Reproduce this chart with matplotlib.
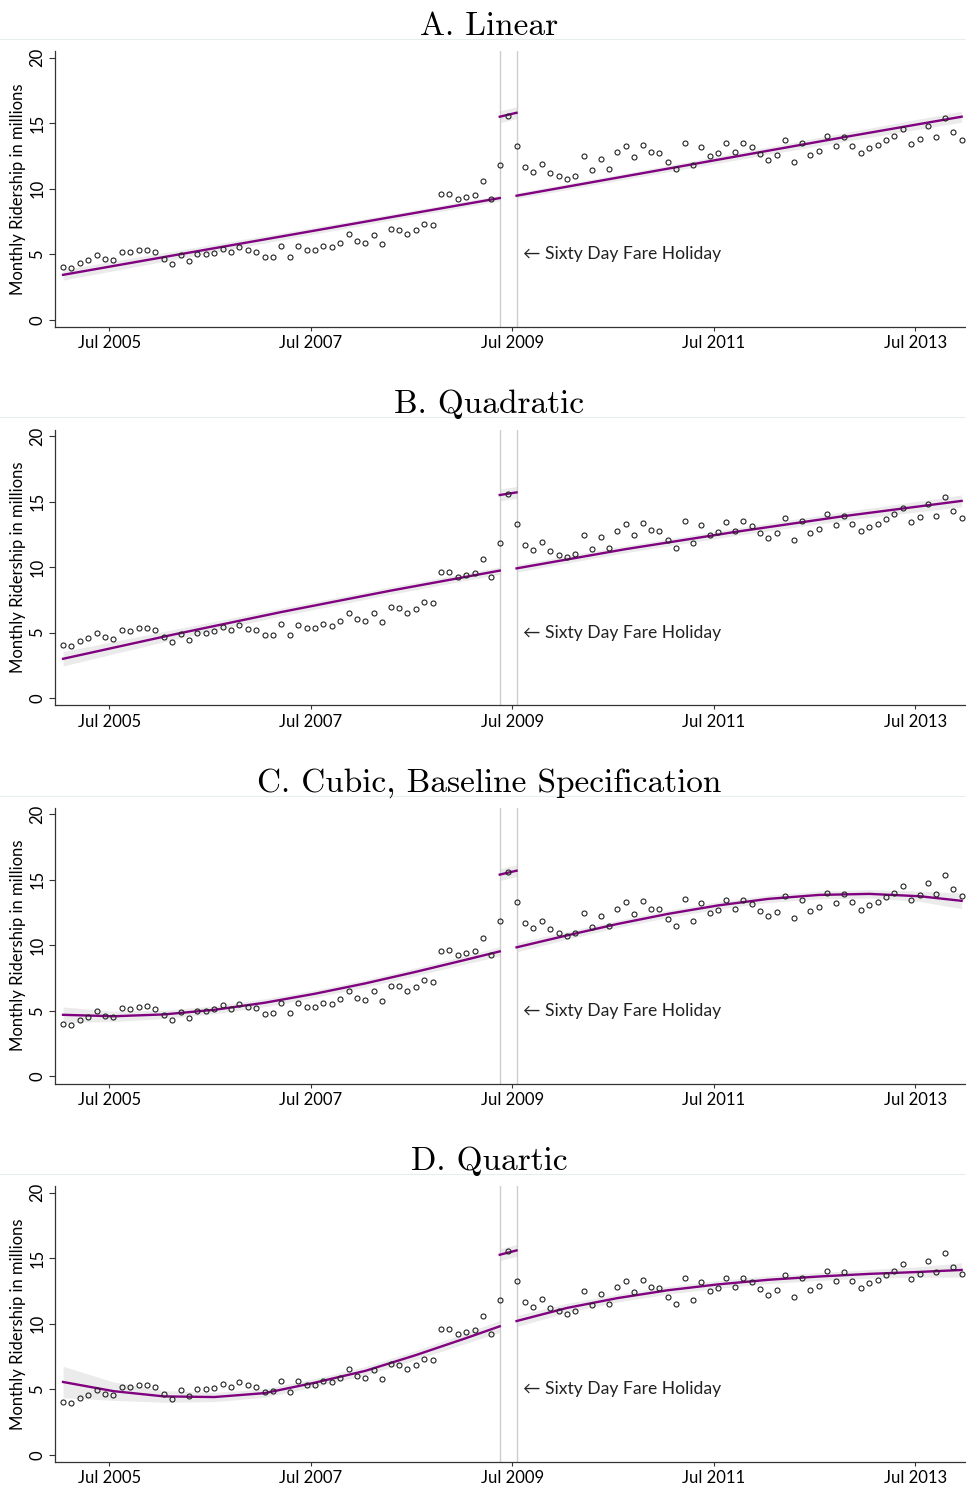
import matplotlib.pyplot as plt
from matplotlib.lines import Line2D
import numpy as np

plt.rcParams['font.family'] = ['Lato', 'DejaVu Sans']

# monthly ridership, Jan 2005 - Dec 2013 (millions)
ridership = [4.02, 3.94, 4.33, 4.56, 4.96, 4.63, 4.53, 5.19, 5.14, 5.32, 5.34, 5.16,
             4.66, 4.27, 4.91, 4.45, 4.99, 4.99, 5.11, 5.42, 5.16, 5.55, 5.29, 5.19,
             4.78, 4.83, 5.62, 4.81, 5.60, 5.32, 5.32, 5.62, 5.52, 5.88, 6.51, 6.00,
             5.85, 6.49, 5.78, 6.92, 6.87, 6.51, 6.82, 7.33, 7.23, 9.59, 9.62, 9.24,
             9.39, 9.54, 10.59, 9.24, 11.83, 15.57, 13.28, 11.68, 11.30, 11.88, 11.22, 10.94,
             10.74, 10.97, 12.47, 11.40, 12.26, 11.48, 12.77, 13.28, 12.42, 13.36, 12.80, 12.75,
             12.04, 11.48, 13.51, 11.83, 13.21, 12.47, 12.70, 13.46, 12.77, 13.49, 13.16, 12.62,
             12.21, 12.57, 13.74, 12.06, 13.49, 12.60, 12.90, 14.02, 13.23, 13.92, 13.28, 12.72,
             13.08, 13.31, 13.69, 14.02, 14.53, 13.44, 13.82, 14.78, 13.92, 15.37, 14.30, 13.76]
months = np.arange(len(ridership)) + 0.5   # mid-month, months since Jan 2005
hol_before, hol_after = 52, 54             # months bracketing the fare holiday

tick_pos = [6, 30, 54, 78, 102]
tick_labels = ['Jul 2005', 'Jul 2007', 'Jul 2009', 'Jul 2011', 'Jul 2013']

titles = ['A. Linear', 'B. Quadratic', 'C. Cubic, Baseline Specification', 'D. Quartic']

# fitted values (month index, value, half width of CI)
t_lin_pre = [0, 13, 26, 39, 52]
t_lin_post = [54, 67, 80, 93, 107]
t_poly_pre = [0, 6, 12, 18, 24, 30, 36, 42, 48, 52]
t_poly_post = [54, 60, 66, 72, 78, 84, 90, 96, 102, 107]

linear_pre = [3.43, 4.90, 6.36, 7.83, 9.29]
linear_post = [9.47, 10.96, 12.45, 13.94, 15.50]
linear_pre_ci = [0.40, 0.33, 0.27, 0.23, 0.22]
linear_post_ci = [0.22, 0.23, 0.27, 0.33, 0.42]
linear_hol = [15.5, 15.8]

quad_pre = [3.00, 4.83, 6.57, 8.20, 9.73]
quad_post = [9.90, 11.37, 12.68, 13.89, 15.05]
quad_pre_ci = [0.55, 0.38, 0.30, 0.28, 0.28]
quad_post_ci = [0.28, 0.27, 0.28, 0.33, 0.45]
quad_hol = [15.5, 15.7]

cubic_pre = [4.70, 4.59, 4.73, 5.08, 5.62, 6.31, 7.10, 7.98, 8.91, 9.54]
cubic_post = [9.85, 10.76, 11.63, 12.40, 13.05, 13.55, 13.85, 13.93, 13.75, 13.40]
cubic_pre_ci = [0.60, 0.40, 0.32, 0.30, 0.30, 0.28, 0.28, 0.30, 0.32, 0.35]
cubic_post_ci = [0.35, 0.30, 0.28, 0.28, 0.28, 0.28, 0.30, 0.32, 0.40, 0.60]
cubic_hol = [15.4, 15.7]

quartic_pre = [5.55, 4.85, 4.45, 4.40, 4.70, 5.50, 6.40, 7.60, 8.90, 9.80]
quartic_post = [10.20, 11.20, 11.95, 12.55, 13.00, 13.35, 13.60, 13.80, 13.95, 14.10]
quartic_pre_ci = [1.20, 0.70, 0.45, 0.35, 0.32, 0.32, 0.33, 0.35, 0.40, 0.45]
quartic_post_ci = [0.42, 0.35, 0.30, 0.30, 0.30, 0.30, 0.30, 0.33, 0.40, 0.55]
quartic_hol = [15.26, 15.59]
hol_ci = 0.45

panels = [
    (t_lin_pre, linear_pre, linear_pre_ci, t_lin_post, linear_post, linear_post_ci, linear_hol),
    (t_lin_pre, quad_pre, quad_pre_ci, t_lin_post, quad_post, quad_post_ci, quad_hol),
    (t_poly_pre, cubic_pre, cubic_pre_ci, t_poly_post, cubic_post, cubic_post_ci, cubic_hol),
    (t_poly_pre, quartic_pre, quartic_pre_ci, t_poly_post, quartic_post, quartic_post_ci, quartic_hol),
]

purple = '#800080'
band = '#ebebeb'

W, H = 966, 1489
fig = plt.figure(figsize=(W / 100, H / 100), dpi=100, facecolor='white')

for k, (tp, vp, cp, tq, vq, cq, vh) in enumerate(panels):
    off = 378.3 * k
    bottom = 327 + off
    ax = fig.add_axes([55 / W, (H - bottom) / H, 910 / W, 275.8 / H])

    # CI bands and fitted segments
    segs = [(np.array(tp) + 0.5, np.array(vp), np.array(cp)),
            (np.array([hol_before, hol_after]) + 0.5, np.array(vh), np.array([hol_ci, hol_ci])),
            (np.array(tq) + 0.5, np.array(vq), np.array(cq))]
    for x, y, c in segs:
        ax.fill_between(x, y - c, y + c, color=band, lw=0, zorder=1)
    for x, y, c in segs:
        ax.plot(x, y, color=purple, lw=1.7, zorder=3)

    # holiday boundaries
    for m in (hol_before, hol_after):
        ax.axvline(m + 0.5, color='#cdcdcd', lw=1.0, zorder=2)

    ax.plot(months, ridership, 'o', ms=3.6, mfc='none', mec='#222222', mew=0.8, zorder=4)

    ax.text(55.3, 5, '\u2190 Sixty Day Fare Holiday', ha='left', va='center',
            fontsize=12.6, color='#222222')

    ax.set_xlim(-0.46, 107.9)
    ax.set_ylim(-0.55, 20.5)
    ax.set_xticks(tick_pos)
    ax.set_xticklabels(tick_labels)
    ax.set_yticks([0, 5, 10, 15, 20])
    ax.tick_params(axis='y', labelrotation=90, length=4, width=0.8, pad=3,
                   labelsize=12, color='#333333')
    ax.tick_params(axis='x', length=3, width=0.8, pad=3, labelsize=12, color='#333333')
    for lab in ax.get_yticklabels():
        lab.set_va('center')

    for s in ('top', 'right'):
        ax.spines[s].set_visible(False)
    for s in ('left', 'bottom'):
        ax.spines[s].set_color('#333333')
        ax.spines[s].set_linewidth(0.9)

    ax.set_ylabel('Monthly Ridership in millions', fontsize=12)
    ax.yaxis.set_label_coords(-(55 - 26) / 910, 0.5)

    # panel title and faint frame line
    fig.text(489 / W, 1 - (26 + off) / H, titles[k], ha='center', va='center',
             family='cmr10', fontsize=24)
    y_line = 1 - (39 + off) / H
    fig.add_artist(Line2D([0, 1], [y_line, y_line], transform=fig.transFigure,
                          color='#e8eeee', lw=0.8))

fig.savefig('out.png', dpi=100, facecolor='white')
